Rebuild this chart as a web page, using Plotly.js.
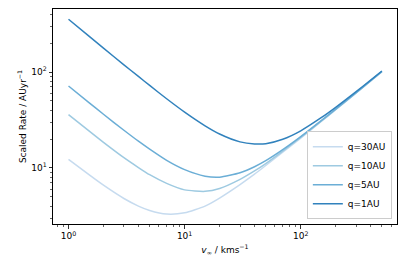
<!DOCTYPE html>
<html>
<head>
<meta charset="utf-8">
<script src="https://cdn.plot.ly/plotly-3.0.1.min.js"></script>
<style>html,body{margin:0;padding:0;background:#fff;}#chart{width:407px;height:271px;}</style>
</head>
<body>
<div id="chart"></div>
<script>
// v_inf (km/s)
const vInf = [1, 1.5, 2, 3, 4, 5, 7, 10, 15, 20, 30, 40, 50, 70, 100, 150, 200, 300, 400, 500];
// scaled rate (AU/yr) per periastron distance
const rateQ30 = [12.3, 8.5, 6.6, 4.8, 4.0, 3.6, 3.3, 3.4, 4.0, 4.85, 6.7, 8.6, 10.6, 14.6, 20.5, 30.5, 40.5, 60.5, 80.8, 101.0];
const rateQ10 = [36, 24.3, 18.5, 12.8, 10.1, 8.5, 6.9, 5.9, 5.7, 6.1, 7.6, 9.3, 11.1, 15.0, 20.8, 30.7, 40.7, 60.7, 81.0, 101.2];
const rateQ5  = [71.5, 48, 36.3, 24.7, 19, 15.7, 12.0, 9.6, 8.2, 8.0, 8.9, 10.3, 11.9, 15.5, 21.2, 31.1, 41.0, 61.0, 81.2, 101.5];
const rateQ1  = [356, 237, 178, 119, 90, 72.5, 52.7, 38.2, 27.5, 22.6, 18.7, 17.8, 17.9, 19.9, 24.4, 33.4, 42.9, 62.6, 82.5, 102.5];
const seriesNames = ['q=30AU', 'q=10AU', 'q=5AU', 'q=1AU'];
const seriesColors = ['#c6dbef', '#9ecae1', '#6baed6', '#3182bd'];
const seriesData = [rateQ30, rateQ10, rateQ5, rateQ1];

const xTickVals = [1, 10, 100];
const xTickText = ['10<sup>0</sup>', '10<sup>1</sup>', '10<sup>2</sup>'];
const yTickVals = [10, 100];
const yTickText = ['10<sup>1</sup>', '10<sup>2</sup>'];
const xMinor = [0.8, 0.9, 2, 3, 4, 5, 6, 7, 8, 9, 20, 30, 40, 50, 60, 70, 80, 90, 200, 300, 400, 500, 600];
const yMinor = [3, 4, 5, 6, 7, 8, 9, 20, 30, 40, 50, 60, 70, 80, 90, 200, 300, 400];

const traces = seriesData.map((ys, i) => ({
  x: vInf, y: ys, type: 'scatter', mode: 'lines', name: seriesNames[i],
  line: {color: seriesColors[i], width: 1.5, shape: 'spline', smoothing: 0.6}
}));

const font = {family: 'DejaVu Sans, sans-serif', size: 9, color: '#000'};
const layout = {
  width: 407, height: 271,
  margin: {l: 53, r: 10, t: 9, b: 47, pad: 0},
  paper_bgcolor: '#fff', plot_bgcolor: '#fff',
  font: font,
  showlegend: true,
  legend: {
    x: 0.985, y: 0.022, xanchor: 'right', yanchor: 'bottom',
    bgcolor: 'rgba(255,255,255,0.8)', bordercolor: '#cccccc', borderwidth: 1,
    font: {family: 'DejaVu Sans, sans-serif', size: 9, color: '#000'},
    tracegroupgap: 0, itemwidth: 30
  },
  xaxis: {
    type: 'log', range: [-0.1336, 2.829],
    showline: true, linecolor: '#000', linewidth: 1, mirror: true,
    showgrid: false, zeroline: false,
    ticks: 'outside', ticklen: 3.5, tickwidth: 0.8, tickcolor: '#000',
    tickmode: 'array', tickvals: xTickVals, ticktext: xTickText,
    minor: {tickmode: 'array', tickvals: xMinor, ticks: 'outside', ticklen: 2, tickwidth: 0.6, tickcolor: '#000', showgrid: false},
    tickfont: font,
    title: {text: '<i>v</i><sub>∞</sub> / kms<sup>−1</sup>', font: font, standoff: 6}
  },
  yaxis: {
    type: 'log', range: [0.415, 2.658],
    showline: true, linecolor: '#000', linewidth: 1, mirror: true,
    showgrid: false, zeroline: false,
    ticks: 'outside', ticklen: 3.5, tickwidth: 0.8, tickcolor: '#000',
    tickmode: 'array', tickvals: yTickVals, ticktext: yTickText,
    minor: {tickmode: 'array', tickvals: yMinor, ticks: 'outside', ticklen: 2, tickwidth: 0.6, tickcolor: '#000', showgrid: false},
    tickfont: font,
    title: {text: 'Scaled Rate / AUyr<sup>−1</sup>', font: font, standoff: 3}
  }
};
Plotly.newPlot('chart', traces, layout, {staticPlot: true, displayModeBar: false});
</script>
</body>
</html>
